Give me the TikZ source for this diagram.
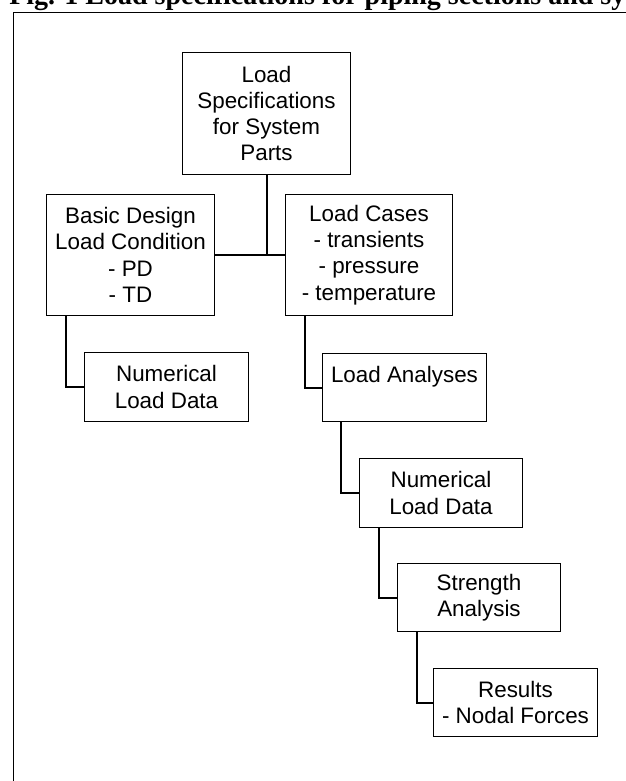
\documentclass[tikz,border=0pt]{standalone}
\usepackage{fontspec}
\setmainfont{Liberation Sans}
\newfontfamily\titlefont{Liberation Serif}

\tikzset{
	box/.style={draw, line width=0.75pt, align=center, inner sep=0pt, font=\fontsize{16.8}{19.7}\selectfont},
	tallbox/.style={box, minimum width=125.5pt, minimum height=91pt},
	flatbox/.style={box, minimum width=122.5pt, minimum height=51.5pt},
	link/.style={line width=1.5pt}
}

\begin{document}
\begin{tikzpicture}[x=0.75pt, y=-0.75pt]
	\useasboundingbox (0,0) rectangle (625,781);

	% Title, cut off by the page edge
	\node[anchor=base west, inner sep=0pt, font=\titlefont\bfseries\fontsize{21}{25}\selectfont] (title) at (9,5) {Fig. 1 Load specifications for piping sections and systems};

	% Frame
	\draw[line width=0.6pt] (13,800) |- (650,12);

	% Boxes
	\node[tallbox] (spec) at (266.5,113.5) {Load\\Specifications\\for System\\Parts};
	\node[tallbox] (basic) at (130.5,255) {Basic Design\\Load Condition\\- PD\\- TD};
	\node[tallbox] (cases) at (369,255) {Load Cases\\- transients\\- pressure\\- temperature};
	\node[flatbox] (numleft) at (166.5,387) {Numerical\\Load Data};
	\node[flatbox] (analyses) at (404.5,387.5) {Load Analyses\\\mbox{}};
	\node[flatbox] (numright) at (441,493) {Numerical\\Load Data};
	\node[flatbox] (strength) at (479,597.5) {Strength\\Analysis};
	\node[flatbox] (results) at (515.5,702.5) {Results\\- Nodal Forces};

	% Connectors
	\draw[link] (basic.east) -- (cases.west);
	\draw[link] (spec.south) -- (spec.south |- basic.east);
	\draw[link] (basic.south west) ++(20,0) |- (numleft.west);
	\draw[link] (cases.south west) ++(20,0) |- (analyses.west);
	\draw[link] (analyses.south west) ++(19,0) |- (numright.west);
	\draw[link] (numright.south west) ++(20,0) |- (strength.west);
	\draw[link] (strength.south west) ++(20,0) |- (results.west);
\end{tikzpicture}
\end{document}
